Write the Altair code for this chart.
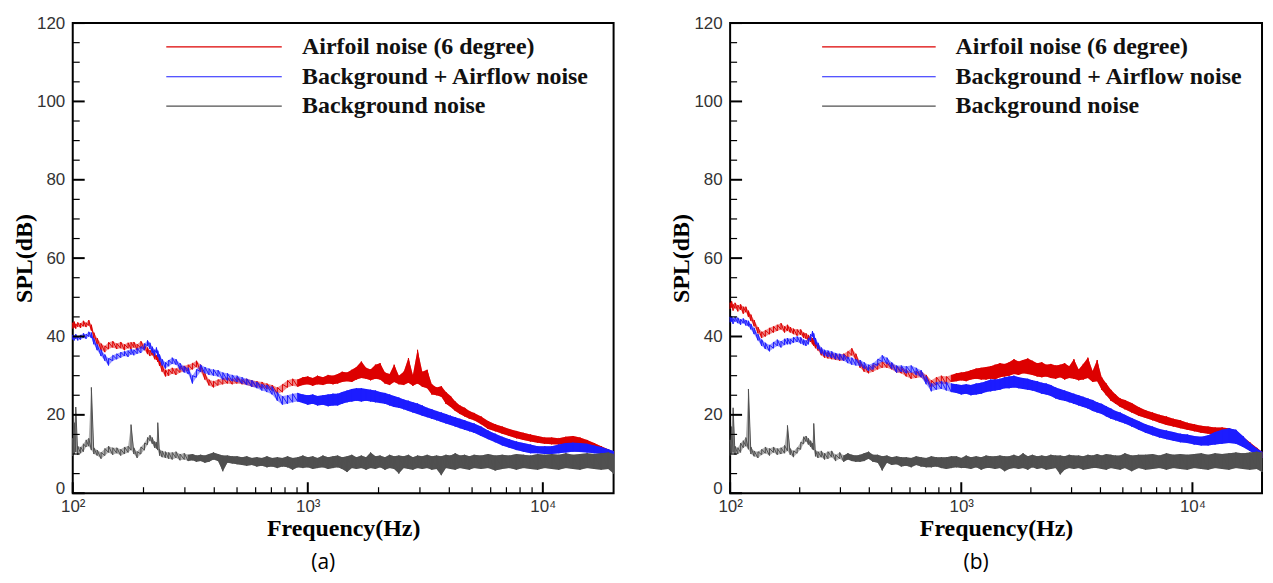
import altair as alt
import pandas as pd

# ---------------- data ----------------
FREQ = [100, 101.5, 103, 105, 108, 111, 114, 117, 120, 123,
        127, 132, 137, 142, 148, 154, 160, 166, 172, 177,
        182, 188, 195, 202, 208, 213, 218, 223, 227, 230,
        234, 240, 248, 256, 265, 275, 286, 298, 310, 323,
        336, 350, 365, 380, 397, 415, 435, 455, 477, 500,
        525, 550, 578, 607, 638, 670, 705, 742, 780, 820,
        862, 906, 953, 1000, 1050, 1100, 1160, 1220, 1280, 1340,
        1400, 1470, 1540, 1610, 1690, 1770, 1850, 1940, 2030, 2130,
        2230, 2330, 2440, 2560, 2680, 2800, 2930, 3070, 3220, 3370,
        3530, 3700, 3870, 4050, 4240, 4440, 4650, 4870, 5100, 5460,
        5850, 6270, 6720, 7200, 7720, 8270, 8860, 9500, 10180, 10910,
        11690, 12530, 13430, 14390, 15420, 16530, 17710, 18980, 20000]

# panel (a)
A_RED_LO = [42.0, 42.3, 42.0, 42.5, 42.2, 42.6, 42.4, 42.8, 41.5, 39.5,
            38.0, 36.5, 36.0, 36.8, 37.2, 36.8, 37.0, 36.5, 37.0, 36.8,
            37.2, 36.5, 37.0, 36.5, 35.5, 35.0, 35.2, 34.2, 34.0, 33.5,
            32.5, 31.0, 29.8, 30.0, 30.5, 30.2, 30.8, 31.0, 31.2, 31.6,
            32.2, 31.0, 29.0, 27.5, 27.0, 27.5, 27.8, 28.0, 27.8, 28.0,
            27.8, 27.6, 27.2, 27.0, 26.8, 26.6, 26.2, 25.4, 25.8, 27.0,
            27.4, 27.2, 27.6, 27.8, 27.4, 27.8, 27.6, 28.0, 27.8, 28.0,
            28.4, 28.6, 28.4, 29.0, 29.4, 29.2, 28.8, 29.2, 29.0, 28.0,
            27.6, 28.4, 27.8, 27.6, 28.2, 27.4, 28.0, 27.2, 26.8, 25.2,
            25.0, 24.6, 22.8, 22.0, 21.0, 20.2, 19.6, 19.0, 18.6, 17.6,
            16.4, 15.8, 15.2, 14.6, 14.0, 13.6, 13.2, 12.9, 12.6, 12.5,
            12.4, 12.5, 12.5, 12.3, 12.0, 11.4, 10.8, 10.0, 9.5]
A_RED_HI = [43.5, 43.8, 43.2, 43.6, 43.4, 44.0, 43.5, 44.2, 43.0, 41.0,
            39.6, 38.2, 37.6, 38.5, 38.8, 38.2, 38.6, 38.0, 38.4, 38.5,
            38.6, 38.0, 38.8, 38.0, 37.2, 36.5, 36.8, 35.8, 35.2, 35.0,
            34.2, 32.8, 31.5, 31.6, 32.0, 31.8, 32.4, 32.5, 32.8, 33.2,
            33.8, 32.8, 30.6, 29.0, 28.6, 29.0, 29.4, 29.6, 29.2, 29.6,
            29.0, 29.2, 28.8, 28.6, 28.4, 28.0, 27.6, 27.0, 27.8, 28.8,
            29.2, 29.0, 29.6, 29.8, 29.4, 30.0, 29.6, 30.2, 30.0, 30.4,
            31.0, 30.8, 31.5, 32.2, 33.6, 32.0, 31.6, 32.8, 33.2, 30.8,
            30.4, 32.8, 30.0, 31.0, 34.5, 30.2, 36.6, 31.0, 31.5, 27.8,
            27.0, 27.3, 25.8, 24.8, 23.4, 22.4, 21.8, 21.0, 20.5, 19.6,
            18.4, 17.6, 17.0, 16.4, 15.9, 15.4, 15.0, 14.6, 14.2, 14.2,
            14.0, 14.4, 14.6, 14.2, 13.6, 12.8, 12.0, 11.2, 10.6]
A_BLUE_LO = [39.2, 39.0, 39.4, 39.0, 39.2, 39.6, 39.4, 40.0, 39.6, 38.0,
             36.5, 35.0, 33.8, 32.6, 33.8, 34.2, 34.6, 35.0, 34.8, 35.4,
             35.2, 35.6, 35.8, 36.6, 37.6, 36.8, 35.8, 35.0, 35.8, 34.8,
             33.8, 32.6, 31.8, 32.4, 33.0, 32.8, 31.6, 30.8, 30.4, 28.0,
             29.6, 31.0, 30.6, 30.2, 30.0, 29.8, 29.0, 28.8, 28.6, 28.4,
             28.0, 27.6, 27.2, 26.8, 26.2, 25.8, 25.2, 23.6, 22.6, 22.8,
             23.2, 23.4, 23.0, 22.6, 22.8, 22.4, 22.6, 22.2, 22.4, 22.4,
             22.8, 23.2, 23.4, 23.6, 23.4, 23.6, 23.4, 23.2, 23.0, 22.8,
             22.4, 22.0, 21.8, 21.4, 21.0, 20.6, 20.2, 19.8, 19.4, 19.0,
             18.6, 18.2, 17.8, 17.4, 17.0, 16.6, 16.2, 15.8, 15.4, 14.6,
             13.8, 13.0, 12.2, 11.6, 11.0, 10.6, 10.2, 10.2, 10.0, 10.0,
             10.2, 10.4, 10.6, 10.5, 10.4, 10.2, 10.0, 9.4, 9.0]
A_BLUE_HI = [40.4, 40.2, 40.6, 40.0, 40.4, 40.8, 40.6, 41.2, 41.0, 39.5,
             38.0, 36.6, 35.4, 34.4, 35.2, 35.6, 36.0, 36.2, 36.4, 36.8,
             36.6, 37.0, 37.4, 38.2, 39.0, 38.4, 37.4, 36.6, 37.2, 36.4,
             35.4, 34.2, 33.4, 34.0, 34.6, 34.2, 33.2, 32.4, 32.0, 30.0,
             31.6, 32.8, 32.2, 31.8, 31.6, 31.4, 30.8, 30.6, 30.2, 30.0,
             29.6, 29.2, 28.8, 28.4, 27.8, 27.6, 27.2, 25.8, 24.8, 25.0,
             25.4, 25.6, 25.2, 25.0, 25.2, 24.8, 25.0, 25.2, 25.4, 25.4,
             25.8, 26.2, 26.6, 26.8, 26.8, 26.6, 26.4, 26.2, 25.8, 25.6,
             25.2, 24.8, 24.4, 23.9, 23.6, 23.2, 22.9, 22.4, 21.8, 21.4,
             21.0, 20.6, 20.2, 19.8, 19.4, 19.0, 18.6, 18.2, 17.8, 17.0,
             16.0, 15.2, 14.4, 13.8, 13.2, 12.8, 12.4, 12.0, 12.0, 12.0,
             12.4, 12.8, 12.9, 12.8, 12.6, 12.2, 11.8, 11.2, 10.8]
A_GRAY_LO = [9.5, 10.0, 10.5, 9.8, 10.2, 10.6, 11.8, 12.0, 11.0, 10.0,
             9.6, 8.8, 9.6, 10.4, 9.8, 10.2, 9.6, 10.0, 10.4, 11.0,
             10.0, 9.0, 10.0, 11.0, 12.4, 13.4, 12.6, 11.6, 11.4, 11.0,
             9.6, 9.2, 9.0, 8.8, 8.6, 9.0, 8.4, 8.6, 8.2, 8.4,
             8.0, 8.2, 7.8, 8.0, 8.6, 8.2, 5.6, 7.8, 7.6, 7.4,
             7.2, 7.0, 7.2, 6.8, 7.0, 6.6, 6.8, 6.4, 6.8, 6.6,
             6.0, 6.6, 6.4, 6.6, 6.2, 6.4, 6.6, 6.2, 6.4, 6.6,
             6.2, 5.4, 6.4, 6.2, 6.4, 6.0, 6.4, 6.2, 6.6, 6.0,
             6.4, 6.2, 5.0, 6.4, 6.2, 6.0, 6.4, 6.2, 6.4, 6.0,
             6.2, 4.6, 6.4, 6.2, 6.0, 6.4, 6.2, 6.0, 6.4, 6.2,
             6.4, 5.8, 6.2, 6.4, 6.0, 6.4, 6.2, 6.0, 6.4, 6.2,
             6.0, 6.4, 6.2, 6.0, 6.4, 6.2, 6.0, 6.2, 5.0]
A_GRAY_HI = [14.0, 18.0, 22.0, 12.0, 11.8, 12.6, 13.6, 14.0, 27.0, 11.6,
             11.0, 10.4, 11.4, 12.0, 11.6, 11.6, 11.2, 11.8, 12.0, 17.5,
             11.6, 10.6, 11.8, 12.8, 14.2, 14.8, 14.2, 13.2, 13.0, 18.0,
             11.2, 10.8, 10.6, 10.4, 10.4, 10.6, 10.0, 10.2, 9.8, 10.0,
             9.6, 9.8, 9.6, 10.0, 10.4, 10.0, 9.6, 9.6, 9.4, 9.4,
             9.2, 9.4, 9.0, 9.2, 9.0, 9.4, 9.0, 9.2, 9.0, 9.4,
             9.0, 9.2, 9.6, 9.2, 9.4, 9.0, 9.6, 9.2, 9.4, 9.6,
             9.2, 9.4, 9.8, 9.2, 9.6, 9.2, 10.4, 9.4, 9.6, 9.2,
             9.8, 9.4, 9.6, 9.4, 9.8, 9.2, 9.6, 9.4, 9.8, 9.4,
             9.6, 9.4, 9.8, 9.6, 10.2, 9.6, 9.8, 9.4, 9.8, 9.6,
             10.0, 9.6, 9.8, 9.6, 10.0, 9.8, 9.6, 10.0, 9.8, 10.0,
             9.8, 10.2, 9.8, 10.0, 10.2, 10.0, 10.2, 10.4, 10.0]

# panel (b)
B_RED_LO = [47.0, 47.4, 46.6, 47.2, 46.4, 46.8, 45.8, 46.2, 45.0, 44.0,
            42.6, 40.8, 39.6, 40.0, 40.6, 41.0, 41.4, 41.8, 41.0, 41.4,
            41.0, 40.6, 40.2, 40.4, 39.6, 39.4, 38.8, 38.6, 38.0, 37.6,
            37.0, 36.4, 35.2, 34.6, 34.4, 34.2, 34.0, 33.8, 33.8, 34.4,
            35.2, 34.0, 32.0, 31.0, 30.6, 31.0, 31.6, 32.0, 32.0, 31.6,
            30.8, 30.6, 29.8, 29.2, 29.4, 29.6, 28.4, 27.0, 27.6, 28.0,
            27.8, 28.4, 28.6, 28.8, 28.6, 29.0, 29.2, 29.0, 29.0, 29.2,
            29.0, 29.6, 29.8, 30.0, 30.4, 30.2, 30.6, 30.4, 30.2, 29.8,
            29.6, 29.8, 29.4, 29.2, 29.6, 29.0, 29.4, 29.2, 28.8, 29.0,
            29.4, 28.4, 28.6, 26.4, 25.0, 23.6, 22.8, 22.0, 21.4, 20.6,
            19.8, 19.2, 18.6, 18.0, 17.4, 17.0, 16.6, 16.2, 15.8, 15.4,
            15.2, 15.0, 15.0, 14.8, 14.2, 12.4, 11.0, 9.8, 9.0]
B_RED_HI = [48.6, 49.0, 48.2, 48.6, 48.0, 48.2, 47.6, 47.6, 46.6, 45.6,
            44.2, 42.4, 41.2, 41.6, 42.2, 42.6, 43.0, 43.4, 42.6, 43.0,
            42.4, 42.0, 41.8, 41.8, 41.0, 40.8, 40.4, 40.0, 39.6, 39.2,
            38.6, 38.0, 36.8, 36.2, 36.0, 35.8, 35.6, 35.4, 35.6, 36.2,
            37.0, 35.6, 33.6, 32.6, 32.2, 32.8, 33.2, 33.6, 33.4, 33.2,
            32.4, 32.2, 31.6, 30.8, 31.2, 31.2, 30.2, 28.8, 29.6, 30.0,
            29.8, 30.2, 30.6, 30.8, 31.0, 31.4, 31.8, 32.0, 32.2, 32.4,
            32.8, 33.2, 33.0, 33.4, 34.2, 33.6, 34.0, 34.4, 33.8, 33.2,
            33.4, 32.8, 33.0, 32.6, 32.8, 33.2, 32.4, 34.2, 31.6, 33.0,
            34.6, 31.2, 34.0, 29.6, 28.0, 26.4, 25.2, 24.2, 23.8, 23.0,
            22.0, 21.2, 20.6, 20.0, 19.6, 19.0, 18.6, 18.0, 17.6, 17.2,
            17.0, 16.8, 16.8, 16.6, 16.0, 14.4, 13.0, 11.6, 10.6]
B_BLUE_LO = [43.6, 43.8, 43.2, 43.8, 43.4, 43.0, 43.4, 42.8, 42.6, 41.8,
             40.6, 39.0, 37.6, 36.8, 36.2, 37.0, 37.6, 37.2, 37.8, 38.0,
             38.0, 38.4, 38.6, 38.2, 37.8, 37.6, 38.0, 39.0, 40.0, 39.2,
             38.0, 36.8, 35.6, 35.0, 34.8, 34.6, 34.2, 34.0, 33.8, 33.2,
             32.8, 32.6, 32.4, 31.8, 31.2, 31.6, 32.6, 33.6, 33.0, 31.8,
             30.8, 31.0, 30.6, 30.8, 30.2, 29.6, 27.8, 26.0, 26.4, 26.6,
             26.2, 25.8, 25.6, 25.2, 25.4, 25.0, 25.2, 25.4, 25.8, 26.0,
             26.2, 26.4, 26.8, 26.8, 27.0, 26.8, 26.6, 26.4, 26.2, 25.8,
             25.4, 25.2, 24.8, 24.2, 23.8, 23.6, 23.2, 22.8, 22.4, 22.0,
             21.6, 21.0, 20.6, 20.2, 19.6, 19.0, 18.6, 18.2, 17.8, 17.0,
             16.2, 15.4, 14.8, 14.2, 13.8, 13.4, 13.0, 12.8, 12.4, 12.2,
             12.2, 12.4, 12.6, 12.8, 12.6, 11.8, 10.8, 9.6, 9.0]
B_BLUE_HI = [45.0, 45.2, 44.6, 45.0, 44.8, 44.4, 44.6, 44.2, 44.0, 43.2,
             42.2, 40.6, 39.2, 38.4, 37.8, 38.6, 39.2, 38.8, 39.4, 39.6,
             39.4, 39.8, 40.0, 39.8, 39.2, 39.0, 39.6, 40.6, 41.4, 40.8,
             39.6, 38.4, 37.2, 36.6, 36.4, 36.2, 35.8, 35.6, 35.4, 34.8,
             34.6, 34.2, 34.0, 33.4, 32.8, 33.2, 34.2, 35.2, 34.6, 33.4,
             32.6, 32.6, 32.4, 32.6, 32.0, 31.4, 29.8, 28.0, 28.4, 28.6,
             28.4, 28.0, 27.8, 27.6, 27.8, 27.6, 28.0, 28.2, 28.6, 29.0,
             29.0, 29.2, 29.6, 29.8, 30.0, 29.6, 29.4, 29.2, 28.8, 28.6,
             28.2, 28.0, 27.6, 27.0, 26.6, 26.2, 25.8, 25.4, 25.0, 24.6,
             24.2, 23.8, 23.2, 22.8, 22.2, 21.6, 21.0, 20.6, 20.0, 19.2,
             18.4, 17.6, 17.0, 16.4, 16.0, 15.6, 15.2, 15.0, 14.6, 14.4,
             14.8, 15.6, 16.2, 16.6, 16.2, 14.6, 12.8, 11.4, 10.6]
B_GRAY_LO = [9.6, 10.2, 10.4, 9.8, 10.0, 10.4, 11.6, 12.0, 11.2, 10.0,
             9.4, 9.0, 9.8, 10.2, 9.6, 10.4, 9.8, 10.0, 10.2, 10.8,
             9.8, 9.2, 10.2, 11.2, 12.6, 13.2, 12.4, 11.8, 11.2, 11.0,
             9.4, 9.0, 9.2, 8.6, 8.8, 9.2, 8.2, 8.8, 8.0, 8.6,
             8.2, 8.0, 8.0, 8.2, 8.8, 8.0, 7.8, 5.8, 7.8, 7.2,
             7.4, 6.8, 7.0, 6.6, 7.2, 6.8, 6.6, 6.6, 6.8, 6.4,
             6.2, 6.4, 6.6, 6.4, 6.4, 6.2, 6.6, 6.0, 6.4, 6.4,
             6.2, 6.4, 5.6, 6.2, 6.4, 6.2, 6.4, 6.0, 6.6, 6.2,
             6.4, 6.0, 6.2, 6.4, 4.8, 6.0, 6.4, 6.2, 6.4, 6.0,
             6.2, 6.4, 6.4, 6.2, 6.0, 6.4, 6.2, 6.0, 6.4, 5.6,
             6.4, 6.0, 6.2, 6.4, 6.0, 6.4, 6.2, 6.0, 6.4, 6.2,
             6.0, 6.4, 6.2, 6.0, 6.4, 6.2, 6.0, 6.2, 5.4]
B_GRAY_HI = [13.6, 17.0, 21.8, 12.0, 11.6, 12.8, 13.4, 14.2, 26.6, 11.8,
             10.8, 10.6, 11.2, 11.8, 11.4, 11.8, 11.4, 11.6, 12.2, 17.3,
             11.4, 10.8, 11.6, 13.0, 14.4, 14.6, 14.0, 13.4, 12.8, 17.8,
             11.0, 10.6, 10.8, 10.2, 10.6, 10.8, 9.8, 10.4, 9.6, 10.2,
             9.8, 9.6, 9.8, 10.2, 10.6, 9.8, 9.8, 9.4, 9.6, 9.2,
             9.4, 9.2, 9.2, 9.0, 9.4, 9.2, 9.0, 9.4, 9.2, 9.2,
             9.2, 9.4, 9.4, 9.0, 9.6, 9.2, 9.4, 9.2, 9.6, 9.4,
             9.4, 9.6, 9.4, 9.4, 9.8, 9.4, 10.2, 9.4, 9.8, 9.4,
             9.6, 9.4, 9.8, 9.6, 9.6, 9.4, 9.8, 9.6, 9.6, 9.4,
             9.8, 9.6, 10.0, 9.6, 10.0, 9.8, 9.6, 9.6, 10.2, 9.6,
             9.8, 9.8, 10.0, 9.6, 10.2, 9.8, 10.0, 9.8, 10.0, 10.2,
             9.8, 10.2, 10.0, 10.2, 10.4, 10.2, 10.4, 10.6, 10.4]

SERIES = ["Airfoil noise (6 degree)", "Background + Airflow noise", "Background noise"]
COLORS = ["#dd0000", "#1c1cff", "#505050"]
# frequency from which each trace is drawn as a dense (filled) band
DENSE_FROM = [900, 900, 300]

# legend entries (drawn inside the plot, in data space)
LEG_X1 = [250, 250, 250]
LEG_X2 = [775, 775, 775]
LEG_TX = [945, 945, 945]
LEG_Y = [113.9, 106.3, 98.8]

# axis tick values
X_MAJOR = [100, 1000, 10000]
X_MINOR = [200, 300, 400, 500, 600, 700, 800, 900,
           2000, 3000, 4000, 5000, 6000, 7000, 8000, 9000]
Y_MAJOR = [0, 20, 40, 60, 80, 100, 120]
Y_MINOR = [5, 10, 15, 25, 30, 35, 45, 50, 55, 65, 70, 75,
           85, 90, 95, 105, 110, 115]

H = 472
SERIF = "'Liberation Serif', 'Times New Roman', Times, serif"
SANS = "'Liberation Sans', Arial, sans-serif"


def panel(series_arrays, label, width):
    band_rows, trace_rows = [], []
    for s, (lo, hi), start in zip(SERIES, series_arrays, DENSE_FROM):
        k = 0
        for f, l, h in zip(FREQ, lo, hi):
            band_rows.append({"series": s, "freq": f, "lo": l, "hi": h,
                              "dense": f >= start})
            trace_rows.append({"series": s, "freq": f, "lo": l, "k": k})
            trace_rows.append({"series": s, "freq": f, "lo": h, "k": k + 1})
            k += 2
    band = pd.DataFrame(band_rows)
    trace = pd.DataFrame(trace_rows)

    xscale = alt.Scale(type="log", domain=[100, 20000], nice=False)
    x_enc = alt.X(
        "freq:Q", scale=xscale,
        axis=alt.Axis(
            values=X_MAJOR, ticks=False, domain=False, grid=False,
            labelExpr="datum.value == 100 ? '10²' : (datum.value == 1000 ? '10³' : '10⁴')",
            labelFont=SANS, labelFontSize=17, labelColor="#333333", labelPadding=5,
            labelFlush=False,
            title="Frequency(Hz)", titleFont=SERIF, titleFontSize=24,
            titleFontWeight="bold", titleColor="black", titlePadding=2,
        ),
    )
    y_enc = alt.Y(
        "lo:Q",
        scale=alt.Scale(domain=[0, 120], nice=False),
        axis=alt.Axis(
            values=Y_MAJOR, ticks=False, domain=False, grid=False,
            labelFont=SANS, labelFontSize=17, labelColor="#333333", labelPadding=8,
            labelBaseline={"condition": {"test": "datum.value === 0", "value": "alphabetic"},
                           "value": "middle"},
            title="SPL(dB)", titleFont=SERIF, titleFontSize=24,
            titleFontWeight="bold", titleColor="black", titlePadding=0,
        ),
    )
    color_enc = alt.Color("series:N", scale=alt.Scale(domain=SERIES, range=COLORS), legend=None)

    layers = []
    for s in SERIES:
        base = alt.Chart(band).transform_filter(alt.datum.series == s)
        layers.append(
            base.mark_area(opacity=0.45, interpolate="linear")
            .encode(x=x_enc, y=y_enc, y2="hi:Q", color=color_enc)
        )
        layers.append(
            base.transform_filter(alt.datum.dense)
            .mark_area(opacity=1, interpolate="linear")
            .encode(x=x_enc, y=y_enc, y2="hi:Q", color=color_enc)
        )
        layers.append(
            alt.Chart(trace).transform_filter(alt.datum.series == s)
            .mark_line(strokeWidth=1.0, interpolate="linear")
            .encode(x=x_enc, y=y_enc, order="k:Q", color=color_enc)
        )

    leg = pd.DataFrame({"series": SERIES, "freq": LEG_X1, "x2": LEG_X2,
                        "tx": LEG_TX, "lo": LEG_Y})
    layers.append(
        alt.Chart(leg).mark_rule(strokeWidth=1.2)
        .encode(x=x_enc, x2="x2:Q", y=y_enc, color=color_enc)
    )
    layers.append(
        alt.Chart(leg).mark_text(align="left", baseline="middle", font=SERIF,
                                 fontSize=24, fontWeight="bold", color="#111111")
        .encode(x=alt.X("tx:Q", scale=xscale), y=y_enc, text="series:N")
    )

    ymaj = pd.DataFrame({"lo": Y_MAJOR})
    ymin = pd.DataFrame({"lo": Y_MINOR})
    xmaj = pd.DataFrame({"freq": X_MAJOR})
    xmin = pd.DataFrame({"freq": X_MINOR})
    layers.append(alt.Chart(ymaj).mark_rule(color="black", strokeWidth=2)
                  .encode(y=y_enc, x=alt.value(0), x2=alt.value(12)))
    layers.append(alt.Chart(ymin).mark_rule(color="black", strokeWidth=1.2)
                  .encode(y=y_enc, x=alt.value(0), x2=alt.value(7)))
    layers.append(alt.Chart(xmaj).mark_rule(color="black", strokeWidth=2)
                  .encode(x=x_enc, y=alt.value(H), y2=alt.value(H - 11)))
    layers.append(alt.Chart(xmin).mark_rule(color="black", strokeWidth=1.2)
                  .encode(x=x_enc, y=alt.value(H), y2=alt.value(H - 6)))

    return alt.layer(*layers).properties(
        width=width, height=H,
        title=alt.TitleParams(label, orient="bottom", font="'Open Sans', sans-serif", fontSize=21,
                              fontWeight="normal", color="black", offset=12, dx=-20),
    )


pa = panel([(A_RED_LO, A_RED_HI), (A_BLUE_LO, A_BLUE_HI), (A_GRAY_LO, A_GRAY_HI)], "(a)", 543)
pb = panel([(B_RED_LO, B_RED_HI), (B_BLUE_LO, B_BLUE_HI), (B_GRAY_LO, B_GRAY_HI)], "(b)", 534)

chart = alt.hconcat(pa, pb, spacing=117, bounds="flush").properties(
    padding={"left": 3, "top": 4, "right": 0, "bottom": 0}
).configure_view(stroke="black", strokeWidth=2)

chart.save("out.html", embed_options={"renderer": "svg", "actions": False})
